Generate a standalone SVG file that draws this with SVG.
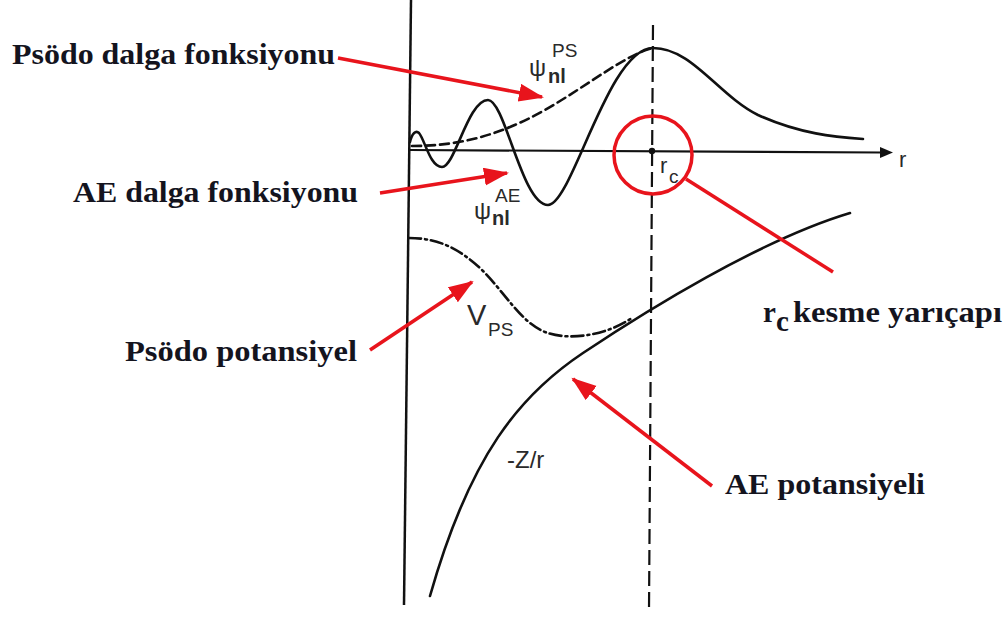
<svg xmlns="http://www.w3.org/2000/svg" width="1007" height="619" viewBox="0 0 1007 619">
<defs>
<style>
.lbl{font-family:"Liberation Serif","Times New Roman",serif;font-weight:bold;font-size:29px;fill:#14141e}
.sym{font-family:"Liberation Sans",Arial,sans-serif;fill:#2a2a2a}
.curve{fill:none;stroke:#111;stroke-width:2.6;stroke-linecap:round}
.red{fill:none;stroke:#e8141c;stroke-width:3.5}
</style>
<marker id="ah" markerUnits="userSpaceOnUse" markerWidth="26" markerHeight="20" refX="23" refY="9" orient="auto">
<path d="M0,0 L25,9 L0,18 z" fill="#e8141c"/>
</marker>
</defs>
<rect width="1007" height="619" fill="#ffffff"/>

<g id="plot">
<line x1="411" y1="0" x2="404" y2="605" stroke="#111" stroke-width="2.5"/>
<line x1="410" y1="150" x2="882" y2="152.5" stroke="#111" stroke-width="2.2"/>
<path d="M880,147 L893,152.5 L880,158 z" fill="#111"/>
<line x1="653" y1="25" x2="649" y2="610" stroke="#111" stroke-width="2.2" stroke-dasharray="15,6"/>
<circle cx="652" cy="151" r="3.2" fill="#111"/>
<path class="curve" d="M410,142 C412,133 416,130 419,133 C425,140 430,167 442,167 C455,167 468,100 488,100 C505,100 522,205 548,205 C572,205 608,48 653,48 C692,48 718,95 758,115 C800,134 835,137 863,139"/>
<path class="curve" stroke-dasharray="9,5" stroke-linecap="butt" d="M412,146 C460,146 500,135 545,110 C590,84 625,55 653,48"/>
<path class="curve" stroke-dasharray="12,4,2,4" stroke-linecap="butt" d="M409,238 C440,238 460,250 480,268 C505,292 520,322 545,332 C568,341 605,336 632,318"/>
<path class="curve" d="M430,596 C470,455 520,395 583,353 C646,311 760,240 850,213"/>
</g>

<g id="psi-ps">
<text class="sym" x="529" y="76" font-size="24">ψ</text>
<text class="sym" x="548" y="83" font-size="20" font-weight="bold">nl</text>
<text class="sym" x="552" y="57" font-size="19">PS</text>
</g>
<g id="psi-ae">
<text class="sym" x="474" y="219" font-size="24">ψ</text>
<text class="sym" x="492" y="225" font-size="20" font-weight="bold">nl</text>
<text class="sym" x="495" y="202" font-size="19">AE</text>
</g>
<g id="vps">
<text class="sym" x="467" y="325" font-size="29">V</text>
<text class="sym" x="488" y="336" font-size="19">PS</text>
</g>
<g id="zr"><text class="sym" x="507" y="468" font-size="24">-Z/r</text></g>
<g id="raxis"><text class="sym" x="899" y="167" font-size="22">r</text></g>
<g id="rc">
<text class="sym" x="660" y="173" font-size="22">r</text>
<text class="sym" x="669" y="183" font-size="19">c</text>
</g>

<g id="lbl-psodo-dalga"><text class="lbl" x="12" y="64" textLength="323" lengthAdjust="spacingAndGlyphs">Psödo dalga fonksiyonu</text></g>
<g id="lbl-ae-dalga"><text class="lbl" x="73" y="202" textLength="285" lengthAdjust="spacingAndGlyphs">AE dalga fonksiyonu</text></g>
<g id="lbl-psodo-pot"><text class="lbl" x="125" y="361" textLength="232" lengthAdjust="spacingAndGlyphs">Psödo potansiyel</text></g>
<g id="lbl-ae-pot"><text class="lbl" x="725" y="494" textLength="200" lengthAdjust="spacingAndGlyphs">AE potansiyeli</text></g>
<g id="lbl-rc">
<text class="lbl" x="763" y="322">r</text>
<text class="lbl" x="776" y="331" font-size="22">c</text>
<text class="lbl" x="793" y="322" textLength="209" lengthAdjust="spacingAndGlyphs">kesme yarıçapı</text>
</g>

<g id="rc-circle"><circle cx="653" cy="155" r="39" fill="none" stroke="#e8141c" stroke-width="3.5"/></g>

<g id="connectors">
<line class="red" x1="338" y1="58" x2="542" y2="97" marker-end="url(#ah)"/>
<line class="red" x1="380" y1="193" x2="507" y2="173" marker-end="url(#ah)"/>
<line class="red" x1="370" y1="350" x2="472" y2="282" marker-end="url(#ah)"/>
<line class="red" x1="712" y1="486" x2="573" y2="379" marker-end="url(#ah)"/>
<line class="red" x1="686" y1="179" x2="833" y2="272"/>
</g>
</svg>
